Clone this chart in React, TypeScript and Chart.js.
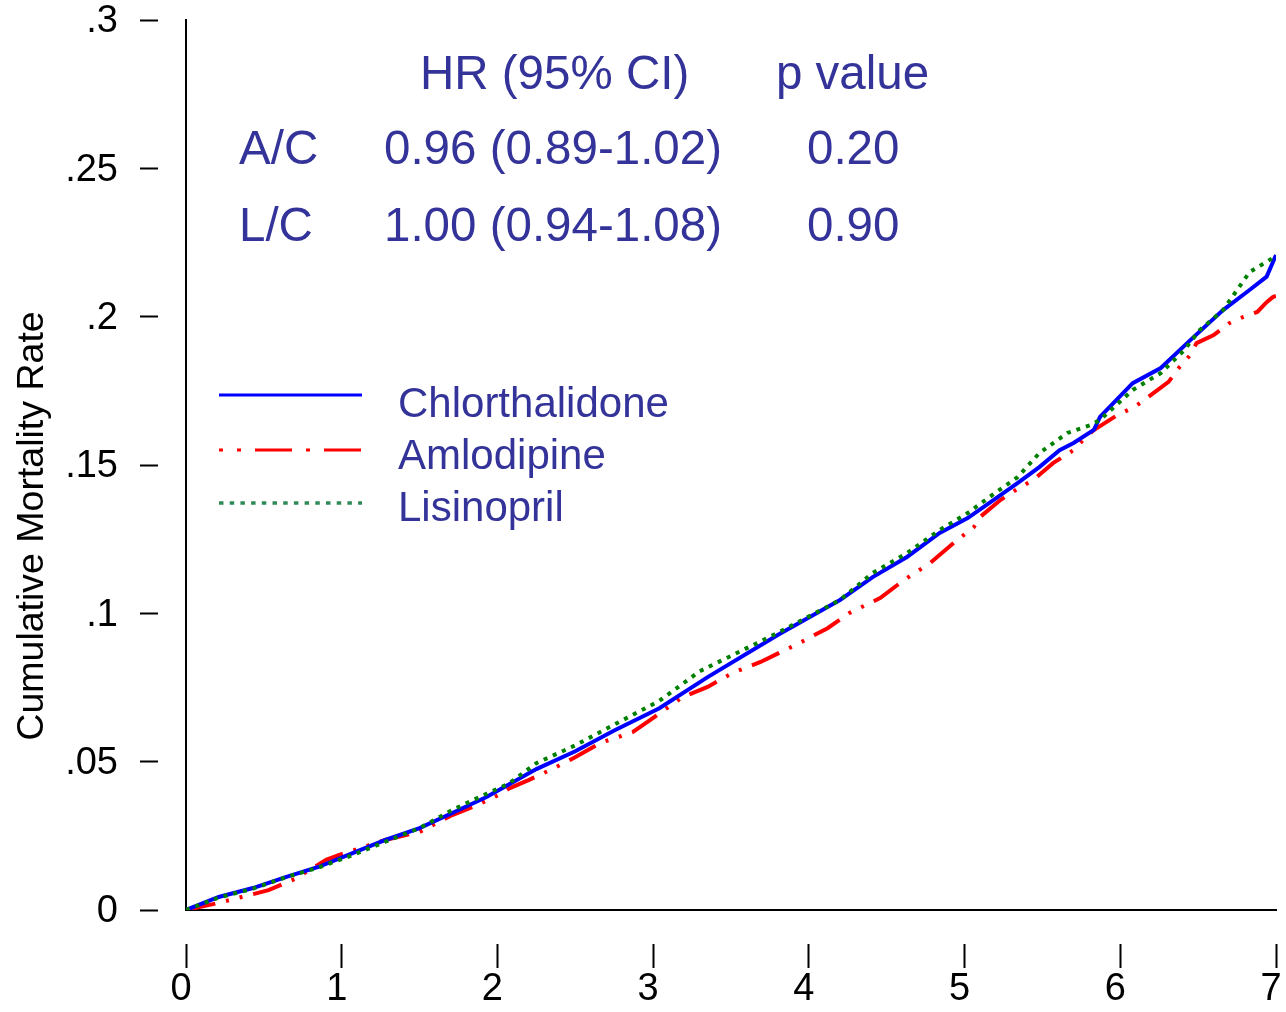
import React, { useEffect, useRef } from 'react';
import { Chart, registerables } from 'chart.js';

Chart.register(...registerables);

const FONT = "'Liberation Sans', Arial, Helvetica, sans-serif";
const TEXT_BLUE = '#333399';

const seriesNames = ['Chlorthalidone', 'Amlodipine', 'Lisinopril'];

// Years of follow-up / cumulative mortality rate
const chlorTime = [0, 0.21, 0.43, 0.64, 0.85, 1.07, 1.28, 1.5, 1.71, 1.93, 2.25, 2.5, 2.75, 3.04, 3.35, 3.8, 4.2, 4.41, 4.63, 4.84, 5.02, 5.16, 5.34, 5.48, 5.61, 5.7, 5.83, 5.87, 6.08, 6.26, 6.45, 6.66, 6.83, 6.94, 7.0];
const chlorRate = [0, 0.0044, 0.0074, 0.0111, 0.0145, 0.0192, 0.0236, 0.0276, 0.0327, 0.0381, 0.0475, 0.0535, 0.0605, 0.068, 0.0785, 0.0927, 0.1045, 0.1122, 0.119, 0.1271, 0.1321, 0.1372, 0.1439, 0.1493, 0.155, 0.1574, 0.1618, 0.1662, 0.1776, 0.1827, 0.1921, 0.2022, 0.209, 0.2135, 0.2208];

const amloTime = [0, 0.21, 0.53, 0.7, 0.9, 0.98, 1.28, 1.5, 1.71, 1.84, 2.01, 2.08, 2.2, 2.34, 2.49, 2.66, 2.87, 2.98, 3.19, 3.35, 3.51, 3.69, 3.94, 4.12, 4.26, 4.46, 4.61, 4.78, 4.93, 5.06, 5.1, 5.23, 5.36, 5.44, 5.57, 5.7, 5.76, 5.83, 5.98, 6.09, 6.31, 6.38, 6.45, 6.49, 6.6, 6.7, 6.79, 6.88, 6.94, 6.98, 7.0];
const amloRate = [0, 0.0024, 0.0067, 0.0105, 0.0169, 0.0185, 0.0236, 0.0263, 0.032, 0.0347, 0.0388, 0.0411, 0.0438, 0.0472, 0.0512, 0.0563, 0.06, 0.064, 0.0718, 0.0752, 0.0799, 0.0836, 0.09, 0.095, 0.1001, 0.1052, 0.1112, 0.117, 0.1237, 0.1291, 0.1325, 0.1382, 0.1426, 0.1449, 0.1507, 0.155, 0.1584, 0.1618, 0.1668, 0.1695, 0.178, 0.183, 0.1871, 0.1911, 0.1938, 0.1978, 0.1999, 0.2016, 0.2049, 0.2066, 0.207];

const lisinTime = [0, 0.21, 0.43, 0.64, 0.85, 1.07, 1.28, 1.5, 1.71, 1.93, 2.07, 2.25, 2.5, 2.75, 3.04, 3.3, 3.8, 4.2, 4.41, 4.63, 4.84, 5.02, 5.16, 5.34, 5.48, 5.66, 5.81, 5.87, 6.08, 6.26, 6.41, 6.51, 6.66, 6.75, 6.83, 6.98, 7.0];
const lisinRate = [0, 0.0042, 0.0072, 0.011, 0.0143, 0.0185, 0.023, 0.0276, 0.0337, 0.0392, 0.0425, 0.0495, 0.0555, 0.0625, 0.0705, 0.0805, 0.0934, 0.1045, 0.1136, 0.1203, 0.1281, 0.1338, 0.1392, 0.1459, 0.154, 0.1608, 0.1635, 0.1652, 0.1753, 0.181, 0.1887, 0.1955, 0.2022, 0.209, 0.215, 0.2198, 0.221];

const xTickValues = [0, 1, 2, 3, 4, 5, 6, 7];
const xTickLabels = ['0', '1', '2', '3', '4', '5', '6', '7'];
const yTickValues = [0, 0.05, 0.1, 0.15, 0.2, 0.25, 0.3];
const yTickLabels = ['0', '.05', '.1', '.15', '.2', '.25', '.3'];

const yAxisTitle = 'Cumulative Mortality Rate';

const statsHeader = ['HR (95% CI)', 'p value'];
const statsRowLabels = ['A/C', 'L/C'];
const statsHR = ['0.96 (0.89-1.02)', '1.00 (0.94-1.08)'];
const statsP = ['0.20', '0.90'];

const toPoints = (t: number[], v: number[]) => t.map((x, i) => ({ x, y: v[i] }));

const legendStyles = [
  { color: '#0000ff', dash: [] as number[], width: 3, y: 395 },
  { color: '#ff0000', dash: [4, 14, 4, 14, 37, 14, 4, 14, 37, 50], width: 3, y: 450 },
  { color: '#2e8b57', dash: [4.5, 6.2], width: 3.5, y: 503 },
];

const overlayPlugin = {
  id: 'overlay',
  afterDraw(chart: any) {
    const ctx = chart.ctx as CanvasRenderingContext2D;
    ctx.save();
    // statistics table
    ctx.fillStyle = TEXT_BLUE;
    ctx.textBaseline = 'alphabetic';
    ctx.textAlign = 'left';
    ctx.font = `47.5px ${FONT}`;
    ctx.fillText(statsHeader[0], 420, 89);
    ctx.fillText(statsHeader[1], 776, 89);
    const rowY = [164, 241];
    for (let i = 0; i < statsRowLabels.length; i++) {
      ctx.fillText(statsRowLabels[i], 239, rowY[i]);
      ctx.fillText(statsHR[i], 384, rowY[i]);
      ctx.fillText(statsP[i], 807, rowY[i]);
    }
    // legend
    const textY = [417, 469, 521];
    ctx.font = `42px ${FONT}`;
    for (let i = 0; i < seriesNames.length; i++) {
      const s = legendStyles[i];
      ctx.beginPath();
      ctx.setLineDash(s.dash);
      ctx.lineDashOffset = 0;
      ctx.lineCap = 'butt';
      ctx.strokeStyle = s.color;
      ctx.lineWidth = s.width;
      ctx.moveTo(219, s.y);
      ctx.lineTo(362, s.y);
      ctx.stroke();
      ctx.setLineDash([]);
      ctx.fillStyle = TEXT_BLUE;
      ctx.fillText(seriesNames[i], 398, textY[i]);
    }
    // y axis title
    ctx.fillStyle = '#000';
    ctx.font = `37.5px ${FONT}`;
    ctx.translate(43, 526);
    ctx.rotate(-Math.PI / 2);
    ctx.textAlign = 'center';
    ctx.fillText(yAxisTitle, 0, 0);
    ctx.restore();
  },
};

export default function App() {
  const canvasRef = useRef<HTMLCanvasElement | null>(null);

  useEffect(() => {
    const canvas = canvasRef.current;
    if (!canvas) return;
    const chart = new Chart(canvas, {
      type: 'line',
      data: {
        datasets: [
          {
            label: seriesNames[0],
            data: toPoints(chlorTime, chlorRate),
            borderColor: '#0000ff',
            borderWidth: 4,
            pointRadius: 0,
            tension: 0,
            fill: false,
            order: 1,
          },
          {
            label: seriesNames[1],
            data: toPoints(amloTime, amloRate),
            borderColor: '#ff0000',
            borderWidth: 4,
            borderDash: [30, 11, 3, 11, 3, 11],
            pointRadius: 0,
            tension: 0,
            fill: false,
            order: 2,
          },
          {
            label: seriesNames[2],
            data: toPoints(lisinTime, lisinRate),
            borderColor: '#008000',
            borderWidth: 4,
            borderDash: [4, 6],
            pointRadius: 0,
            tension: 0,
            fill: false,
            order: 0,
          },
        ],
      },
      options: {
        animation: false,
        responsive: false,
        devicePixelRatio: 1,
        parsing: false as any,
        layout: { padding: { top: 20, right: 10, left: 0, bottom: 0 } },
        plugins: {
          legend: { display: false },
          tooltip: { enabled: false },
          title: { display: false },
        },
        scales: {
          x: {
            type: 'linear',
            min: 0,
            max: 7,
            afterBuildTicks: (scale: any) => {
              scale.ticks = xTickValues.map((v) => ({ value: v }));
            },
            afterFit: (scale: any) => {
              scale.height = 102;
              scale.paddingLeft = 0;
              scale.paddingRight = 0;
              scale.paddingTop = 0;
              scale.paddingBottom = 0;
            },
            ticks: {
              autoSkip: false,
              maxRotation: 0,
              color: '#000',
              padding: 3,
              labelOffset: -5,
              font: { size: 38, family: FONT, lineHeight: 1 },
              callback: (v: any) => xTickLabels[xTickValues.indexOf(Number(v))] ?? '',
            },
            grid: {
              display: true,
              drawOnChartArea: false,
              drawTicks: true,
              tickLength: 58,
              tickColor: '#000',
              tickWidth: 2,
              tickBorderDash: [0, 33, 25, 100],
            },
            border: { display: true, color: '#000', width: 2 },
          },
          y: {
            type: 'linear',
            min: 0,
            max: 0.3,
            afterBuildTicks: (scale: any) => {
              scale.ticks = yTickValues.map((v) => ({ value: v }));
            },
            afterFit: (scale: any) => {
              scale.width = 186;
              scale.paddingLeft = 0;
              scale.paddingRight = 0;
              scale.paddingTop = 0;
              scale.paddingBottom = 0;
            },
            ticks: {
              autoSkip: false,
              color: '#000',
              padding: 22,
              labelOffset: 2,
              font: { size: 38, family: FONT, lineHeight: 1 },
              callback: (v: any) => {
                const idx = yTickValues.findIndex((t) => Math.abs(t - Number(v)) < 1e-9);
                return idx >= 0 ? yTickLabels[idx] : '';
              },
            },
            grid: {
              display: true,
              drawOnChartArea: false,
              drawTicks: true,
              tickLength: 46,
              tickColor: '#000',
              tickWidth: 2,
              tickBorderDash: [18, 100],
            },
            border: { display: true, color: '#000', width: 2 },
          },
        },
      },
      plugins: [overlayPlugin],
    } as any);
    return () => chart.destroy();
  }, []);

  return (
    <div style={{ position: 'absolute', left: 0, top: 0, width: 1286, height: 1012, background: '#fff' }}>
      <canvas ref={canvasRef} width={1286} height={1012} style={{ display: 'block', width: 1286, height: 1012 }} />
    </div>
  );
}
